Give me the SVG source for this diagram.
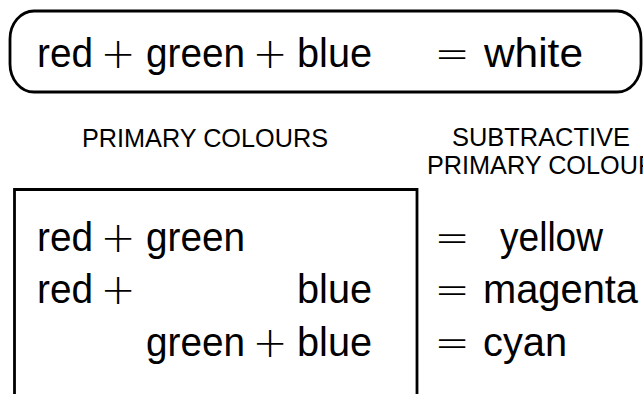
<svg xmlns="http://www.w3.org/2000/svg" width="643" height="394" viewBox="0 0 643 394">
<style>
.m{font-family:"Liberation Sans",Arial,sans-serif;font-size:40px;fill:#000}
.op{font-family:"DejaVu Sans",sans-serif;font-size:42px;fill:#000;text-anchor:middle;font-weight:200}
.s{font-family:"Liberation Sans",Arial,sans-serif;font-size:26px;fill:#000}
.box{fill:none;stroke:#000;stroke-width:2.8}
</style>
<rect width="643" height="394" fill="#fff"/>
<g id="white-box">
<rect class="box" x="10" y="11" width="631" height="81" rx="24" ry="28"/>
<text class="m" x="37" y="67" textLength="56" lengthAdjust="spacingAndGlyphs">red</text>
<text class="op" x="118" y="68">+</text>
<text class="m" x="146" y="67" textLength="99" lengthAdjust="spacingAndGlyphs">green</text>
<text class="op" x="270" y="68">+</text>
<text class="m" x="297" y="67" textLength="75" lengthAdjust="spacingAndGlyphs">blue</text>
<text class="op" x="452" y="68">=</text>
<text class="m" x="484" y="67" textLength="99" lengthAdjust="spacingAndGlyphs">white</text>
</g>
<g id="headings">
<text class="s" x="82" y="147" textLength="246" lengthAdjust="spacingAndGlyphs">PRIMARY COLOURS</text>
<text class="s" x="452" y="146" textLength="178" lengthAdjust="spacingAndGlyphs">SUBTRACTIVE</text>
<text class="s" x="427" y="174" textLength="246" lengthAdjust="spacingAndGlyphs">PRIMARY COLOURS</text>
</g>
<g id="primary-box">
<path class="box" d="M14.5,396 V189.5 H417 V396"/>
<text class="m" x="37" y="251" textLength="56" lengthAdjust="spacingAndGlyphs">red</text>
<text class="op" x="118" y="252">+</text>
<text class="m" x="146" y="251" textLength="99" lengthAdjust="spacingAndGlyphs">green</text>
<text class="m" x="37" y="303" textLength="56" lengthAdjust="spacingAndGlyphs">red</text>
<text class="op" x="118" y="304">+</text>
<text class="m" x="297" y="303" textLength="75" lengthAdjust="spacingAndGlyphs">blue</text>
<text class="m" x="146" y="356" textLength="99" lengthAdjust="spacingAndGlyphs">green</text>
<text class="op" x="270" y="357">+</text>
<text class="m" x="297" y="356" textLength="75" lengthAdjust="spacingAndGlyphs">blue</text>
</g>
<g id="results">
<text class="op" x="452" y="252">=</text>
<text class="m" x="500" y="251" textLength="103" lengthAdjust="spacingAndGlyphs">yellow</text>
<text class="op" x="452" y="304">=</text>
<text class="m" x="483" y="303" textLength="155" lengthAdjust="spacingAndGlyphs">magenta</text>
<text class="op" x="452" y="357">=</text>
<text class="m" x="483" y="356" textLength="84" lengthAdjust="spacingAndGlyphs">cyan</text>
</g>
</svg>
